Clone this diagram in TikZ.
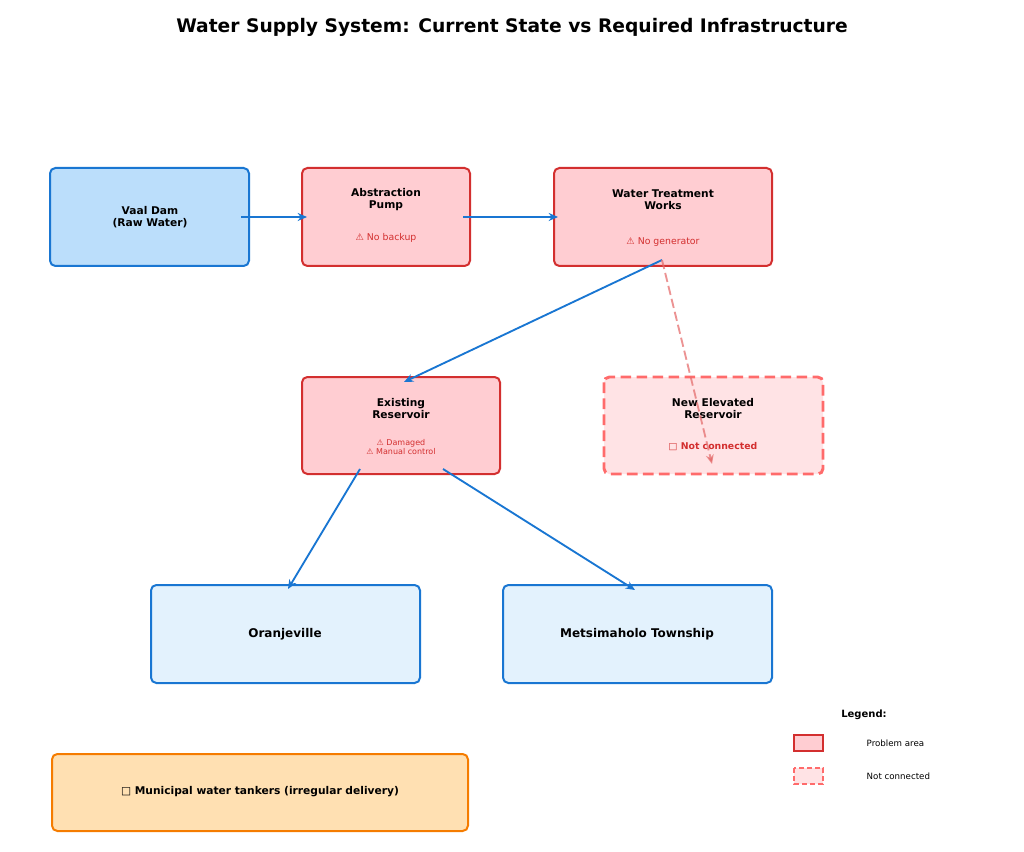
\documentclass[tikz,border=0pt]{standalone}
\usepackage{fontspec}
\setmainfont{DejaVu Sans}
\usetikzlibrary{arrows.meta}
\definecolor{bblue}{HTML}{1976D2}
\definecolor{lblue}{HTML}{BBDEFB}
\definecolor{vlblue}{HTML}{E3F2FD}
\definecolor{bred}{HTML}{D32F2F}
\definecolor{lred}{HTML}{FFCDD2}
\definecolor{dred}{HTML}{FF6B6B}
\definecolor{vlred}{HTML}{FFE3E5}
\definecolor{borange}{HTML}{F57C00}
\definecolor{lorange}{HTML}{FFE0B2}
\tikzset{
 box/.style={rounded corners=4pt,line width=1.5pt},
 ok/.style={box,draw=bblue,fill=vlblue},
 prob/.style={box,draw=bred,fill=lred},
 lbl/.style={font=\bfseries\fontsize{8}{9}\selectfont,align=center},
 note/.style={font=\fontsize{7}{8}\selectfont,text=bred,align=center},
 flow/.style={-{Stealth[length=7pt,width=6pt]},line width=1.4pt,draw=bblue},
}
\begin{document}
\begin{tikzpicture}[x=0.75pt,y=-0.75pt]
\useasboundingbox (0,0) rectangle (1024,852);
\node[font=\bfseries\fontsize{14}{16}\selectfont] (title) at (512,27) {Water Supply System: Current State vs Required Infrastructure};
\draw[box,draw=bblue,fill=lblue] (50,168) rectangle (249,266);
\node[lbl] (vaal) at (150,217) {Vaal Dam\\(Raw Water)};
\draw[prob] (302,168) rectangle (470,266);
\node[lbl] (pump) at (386,200) {Abstraction\\Pump};
\node[note] (pumpn) at (386,238) {⚠ No backup};
\draw[prob] (554,168) rectangle (772,266);
\node[lbl] (wtw) at (663,200) {Water Treatment\\Works};
\node[note] (wtwn) at (663,242) {⚠ No generator};
\draw[prob] (302,377) rectangle (500,474);
\node[lbl] (res) at (401,409) {Existing\\Reservoir};
\node[note,font=\fontsize{6}{7}\selectfont] (resn) at (401,447) {⚠ Damaged\\⚠ Manual control};
\draw[box,draw=dred,fill=vlred,dash pattern=on 8pt off 4pt,line width=2.2pt] (604,377) rectangle (823,474);
\node[lbl] (newres) at (713,409) {New Elevated\\Reservoir};
\node[note,font=\bfseries\fontsize{7}{8}\selectfont] (newn) at (713,447) {□ Not connected};
\draw[ok] (151,585) rectangle (420,683);
\node[lbl,font=\bfseries\fontsize{9}{11}\selectfont] (oran) at (285,634) {Oranjeville};
\draw[ok] (503,585) rectangle (772,683);
\node[lbl,font=\bfseries\fontsize{9}{11}\selectfont] (mets) at (637,634) {Metsimaholo Township};
\draw[box,draw=borange,fill=lorange] (52,754) rectangle (468,831);
\node[lbl] (tank) at (260,792) {□ Municipal water tankers (irregular delivery)};
\coordinate (a1) at (241,217); \coordinate (a2) at (307,217);
\coordinate (b1) at (463,217); \coordinate (b2) at (558,217);
\coordinate (c1) at (662,260); \coordinate (c2) at (404,382);
\coordinate (d2) at (712,464);
\coordinate (e1) at (360,469); \coordinate (e2) at (288,589);
\coordinate (f1) at (443,469); \coordinate (f2) at (635,590);
\draw[flow] (a1) -- (a2);
\draw[flow] (b1) -- (b2);
\draw[flow] (c1) -- (c2);
\draw[flow,draw=dred!80!gray,draw opacity=0.75,dash pattern=on 7pt off 3pt] (c1) -- (d2);
\draw[flow] (e1) -- (e2);
\draw[flow] (f1) -- (f2);
\node[font=\bfseries\fontsize{7.5}{9}\selectfont] (leg) at (864,715) {Legend:};
\draw[draw=bred,fill=lred,line width=1.2pt] (794,735) rectangle (823,751);
\node[anchor=west,font=\fontsize{6.5}{8}\selectfont] (l1) at (862,743) {Problem area};
\draw[draw=dred,fill=vlred,line width=1.5pt,dash pattern=on 4pt off 2pt] (794,768) rectangle (823,784);
\node[anchor=west,font=\fontsize{6.5}{8}\selectfont] (l2) at (862,776) {Not connected};
\end{tikzpicture}
\end{document}
